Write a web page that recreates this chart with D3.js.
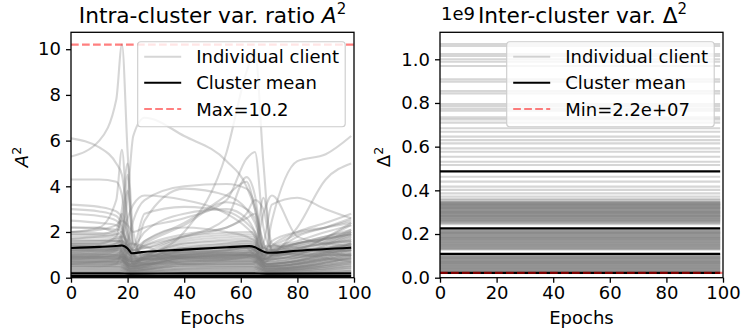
<!DOCTYPE html>
<html>
<head>
<meta charset="utf-8">
<script src="https://cdn.jsdelivr.net/npm/d3@7"></script>
<style>
  body { margin: 0; background: #fff; }
  svg { font-family: "DejaVu Sans", sans-serif; }
</style>
</head>
<body>
<div id="chart"></div>
<script>
// ---- data ----
// left panel: A^2 per client, sampled at these epochs
var spikyEpochs = [0, 10, 16, 18, 20, 22, 26, 40, 55, 62, 65, 68, 71, 80, 90, 99];
var spikyClients = [
  [5.3,6.0,7.8,10.2,5.5,1.5,1.0,0.9,0.9,1.0,1.0,0.8,0.9,1.0,1.1,1.2],
  [6.1,5.7,5.0,4.5,2.5,1.0,0.8,0.8,0.9,1.0,0.9,0.7,0.8,0.9,1.0,1.0],
  [4.3,4.3,4.2,3.6,1.8,0.7,0.9,1.1,1.2,1.3,1.2,0.8,1.0,1.2,1.3,1.4],
  [1.2,1.3,1.5,2.0,3.5,6.2,7.0,6.2,5.1,4.0,3.0,1.5,1.0,1.3,1.5,1.6],
  [0.6,0.7,0.8,0.9,0.8,0.6,0.9,2.0,5.5,9.0,9.9,5.0,1.2,1.0,1.1,1.2],
  [2.0,2.1,2.3,2.5,2.3,2.0,2.2,2.6,3.4,5.2,5.5,2.2,1.3,1.5,1.7,1.9],
  [0.9,0.9,0.9,0.9,0.8,0.7,0.8,0.9,1.0,1.0,0.9,0.8,2.5,5.1,5.4,6.2],
  [1.0,1.0,1.0,1.0,0.9,0.8,0.9,1.0,1.1,1.1,1.0,0.8,1.0,2.2,4.3,5.0],
  [2.0,2.2,3.4,5.6,2.2,0.8,0.9,1.0,1.1,1.2,1.1,0.8,1.0,1.1,1.2,1.3],
  [1.5,1.5,1.8,3.0,5.0,2.0,0.8,0.9,1.0,1.0,0.9,0.7,0.8,0.9,1.0,1.0],
  [0.8,0.9,1.0,1.2,1.6,2.5,3.4,4.0,4.1,3.9,3.2,1.5,1.0,1.1,1.3,1.5],
  [1.5,1.5,1.6,1.6,1.4,1.2,1.4,1.8,2.6,4.4,3.6,1.2,1.1,1.3,1.5,1.7],
  [0.7,0.7,0.7,0.7,0.6,0.5,0.6,0.7,0.8,0.9,1.2,2.8,3.6,1.8,1.5,1.4],
  [3.2,3.1,2.9,2.6,1.5,0.7,0.9,1.2,1.4,1.5,1.4,0.9,1.1,1.3,1.5,1.6],
  [3.0,2.9,2.7,2.3,1.3,0.6,1.0,1.3,1.5,1.6,1.5,1.0,1.2,1.5,1.7,1.9],
  [2.8,2.7,2.5,2.2,1.2,0.6,0.8,1.0,1.2,1.3,1.2,0.8,0.9,1.1,1.2,1.3],
  [0.9,1.0,1.2,1.4,1.1,1.0,2.5,3.9,3.6,3.0,2.4,1.2,1.0,1.2,1.3,1.4],
  [1.2,1.2,1.2,1.3,1.1,0.9,1.0,1.1,1.2,1.3,1.0,1.5,3.2,3.5,3.0,2.6],
  [1.3,1.3,1.3,1.4,1.2,1.0,1.1,1.2,1.3,1.4,1.2,1.0,1.4,2.0,2.4,2.8],
  [2.2,2.2,2.0,2.6,3.8,1.5,1.3,1.8,2.2,2.6,2.8,1.3,1.2,1.5,1.8,2.1],
  [1.9,1.9,2.1,2.8,1.9,1.4,2.0,2.8,3.0,2.6,2.0,0.9,1.3,1.6,2.0,2.3],
  [1.0,1.1,1.3,1.8,2.6,3.2,3.6,3.4,2.8,2.2,1.8,1.0,1.1,1.4,1.7,2.0],
  [1.7,1.8,1.9,2.0,1.5,1.2,1.5,2.3,3.3,3.0,2.6,1.3,1.4,1.9,2.2,2.5],
  [1.1,1.2,1.3,1.5,1.2,1.3,2.8,3.1,2.9,2.4,2.0,1.3,1.2,1.4,1.6,1.8],
  [1.4,1.4,1.5,1.6,1.3,1.1,1.4,1.9,2.2,2.8,3.4,3.0,1.2,1.5,1.8,2.0],
  [0.7,0.7,0.7,0.8,0.6,0.5,0.6,0.7,0.8,0.9,0.8,0.6,1.0,1.8,2.2,2.6],
  [2.5,2.4,2.3,2.1,1.3,0.9,1.6,2.2,2.0,1.8,1.6,1.1,1.6,2.0,2.2,2.4],
  [0.5,0.5,0.6,1.5,4.5,1.0,0.6,0.6,0.7,0.7,0.7,0.5,0.6,0.7,0.8,0.8],
  [1.6,1.6,1.7,1.8,1.6,1.3,1.6,2.4,3.6,4.2,3.0,0.9,1.2,1.5,1.7,1.9],
  [0.8,0.8,0.8,0.9,0.8,0.7,0.8,0.9,1.0,1.1,1.3,3.5,1.5,1.2,1.2,1.2]
];
var flatEpochs = [0, 17, 21, 40, 64, 69, 99];
var flatClients = [
  [2.2,2.1,1.2,1.8,2.0,1.0,2.3],[2.0,1.9,0.9,1.6,1.8,0.8,2.0],[1.9,1.8,1.0,1.7,1.9,0.9,2.4],
  [1.8,1.7,0.8,1.5,1.6,0.7,1.7],[1.7,1.6,0.7,1.4,1.5,0.8,1.9],[1.6,1.6,0.9,1.5,1.7,0.9,2.1],
  [1.5,1.5,0.8,1.3,1.4,0.6,1.5],[1.45,1.4,0.7,1.3,1.3,0.7,1.6],[1.4,1.3,0.6,1.2,1.3,0.6,1.3],
  [1.35,1.35,0.8,1.2,1.4,0.8,1.8],[1.3,1.2,0.6,1.1,1.2,0.5,1.2],[1.25,1.2,0.7,1.1,1.1,0.6,1.4],
  [1.2,1.1,0.5,1.0,1.1,0.5,1.1],[1.15,1.1,0.6,1.0,1.0,0.6,1.3],[1.1,1.0,0.5,0.9,1.0,0.5,1.0],
  [1.05,1.0,0.6,0.95,1.0,0.7,1.5],[1.0,0.95,0.4,0.9,0.9,0.4,0.9],[0.95,0.9,0.5,0.85,0.9,0.5,1.1],
  [0.9,0.85,0.4,0.8,0.8,0.4,0.85],[0.85,0.8,0.5,0.8,0.8,0.5,1.0],[0.8,0.8,0.4,0.75,0.75,0.4,0.8],
  [0.75,0.7,0.35,0.7,0.7,0.35,0.9],[0.7,0.7,0.4,0.65,0.7,0.4,0.7],[0.65,0.6,0.3,0.6,0.6,0.3,0.75],
  [0.6,0.6,0.35,0.55,0.6,0.35,0.6],[0.55,0.5,0.3,0.5,0.5,0.3,0.65],[0.5,0.5,0.3,0.5,0.5,0.3,0.5],
  [0.45,0.45,0.25,0.4,0.45,0.25,0.55],[0.4,0.4,0.25,0.4,0.4,0.25,0.4],[0.35,0.35,0.2,0.35,0.35,0.2,0.45],
  [0.3,0.3,0.2,0.3,0.3,0.2,0.3],[0.25,0.25,0.15,0.25,0.25,0.15,0.3],[0.2,0.2,0.15,0.2,0.2,0.15,0.2],
  [0.15,0.15,0.1,0.15,0.15,0.1,0.15],[0.1,0.1,0.08,0.1,0.1,0.08,0.1],[0.05,0.05,0.05,0.05,0.05,0.05,0.05],
  [1.38,1.3,0.7,1.25,1.3,0.6,1.5],[1.28,1.25,0.6,1.15,1.2,0.6,1.35],[1.18,1.15,0.55,1.05,1.1,0.55,1.25],
  [1.08,1.05,0.5,1.0,1.05,0.5,1.2],[0.98,0.95,0.45,0.9,0.95,0.45,1.05],[0.88,0.85,0.45,0.82,0.85,0.45,0.95],
  [0.78,0.75,0.4,0.72,0.75,0.4,0.85],[0.68,0.65,0.35,0.62,0.65,0.35,0.7],[0.58,0.55,0.3,0.55,0.55,0.3,0.62],
  [0.48,0.46,0.28,0.45,0.46,0.28,0.5],[0.38,0.37,0.22,0.36,0.37,0.22,0.4],[0.28,0.28,0.18,0.27,0.28,0.18,0.3],
  [0.9,0.9,1.5,0.85,0.9,1.4,0.95],[0.6,0.62,1.2,0.6,0.6,1.1,0.7]
];
var meanEpochs = [0, 10, 17, 18, 20, 21.5, 25, 40, 55, 63, 65, 67, 69, 70, 80, 99];
var meanHigh   = [1.30,1.35,1.40,1.41,1.28,1.07,1.12,1.23,1.33,1.38,1.33,1.20,1.10,1.09,1.18,1.31];
var meanLow    = [[0.19,0.19,0.18,0.19,0.19,0.18,0.19], [0.07,0.07,0.07,0.07,0.07,0.07,0.07]];
var maxA2 = 10.2;

// right panel: Delta^2 per client (constant over epochs), units of 1e9
var deltaClients = [
  1.070,1.061,1.024,1.015,1.000,0.989,0.969,0.908,0.897,0.855,0.844,0.795,0.786,0.775,0.765,
  0.734,0.725,0.710,0.684,0.668,0.646,0.630,0.615,0.592,0.577,0.554,0.531,0.516,0.462,0.440,
  0.417,0.402,0.386,0.371,0.360,0.355,
  0.348,0.345,0.343,0.341,0.338,0.336,0.334,0.331,0.329,0.327,0.324,0.322,0.320,0.317,0.315,
  0.313,0.309,0.306,0.304,0.302,0.299,0.297,0.295,0.291,0.288,0.286,0.284,0.280,0.278,0.276,
  0.272,0.270,0.268,0.264,0.262,0.260,0.256,0.252,0.245,
  0.347,0.340,0.333,0.326,0.319,0.311,0.303,0.296,0.289,0.282,0.274,0.266,0.258,0.250,0.335,0.318,0.300,0.283,
  0.218,0.214,0.212,0.210,0.206,0.202,0.200,0.198,0.193,0.191,0.189,0.185,0.181,0.178,0.176,
  0.172,0.168,0.165,0.163,0.159,0.155,0.152,0.150,0.146,0.142,0.140,0.137,0.133,0.129,
  0.216,0.208,0.204,0.196,0.187,0.183,0.174,0.170,0.161,0.157,0.148,0.144,0.135,0.131,0.205,0.180,
  0.104,0.100,0.098,0.096,0.092,0.088,0.086,0.084,0.080,0.076,0.074,0.072,0.068,0.064,0.062,
  0.060,0.056,0.052,0.050,0.048,0.044,0.040,0.038,0.036,0.032,0.030,0.028,0.024,0.022,
  0.102,0.094,0.090,0.082,0.078,0.070,0.066,0.058,0.054,0.046,0.042,0.034,0.026,0.090,0.070
];
var deltaMeans = [0.487, 0.226, 0.109, 0.022];
var minDelta = 0.022;
var lineEpochs = [0, 99];

var xTicks = [0, 20, 40, 60, 80, 100];
var yTicksLeft = [0, 2, 4, 6, 8, 10];
var yTicksRight = [0, 0.2, 0.4, 0.6, 0.8, 1.0];
var legendLeft = ["Individual client", "Cluster mean", "Max=10.2"];
var legendRight = ["Individual client", "Cluster mean", "Min=2.2e+07"];

// ---- drawing ----
var svg = d3.select('#chart').append('svg').attr('width', 742).attr('height', 335);
var axTop = 32.3, axBottom = 277.7, fs = 18;
var gray = '#808080', clientAlpha = 0.32;

function panel(x0, yMax, yTicks, fmt, id){
  var x = d3.scaleLinear().domain([0, 100]).range([x0, x0 + 283]);
  var y = d3.scaleLinear().domain([0, yMax]).range([axBottom, axTop]);
  svg.append('clipPath').attr('id', id).append('rect')
    .attr('x', x0).attr('y', axTop).attr('width', 283).attr('height', axBottom - axTop);
  var plot = svg.append('g').attr('clip-path', 'url(#' + id + ')');
  return {x: x, y: y, plot: plot, x0: x0, yTicks: yTicks, fmt: fmt};
}

function axes(p){
  var gx = svg.append('g').attr('transform', 'translate(0,' + axBottom + ')')
    .call(d3.axisBottom(p.x).tickValues(xTicks).tickSize(5).tickPadding(4).tickFormat(d3.format('d')));
  var gy = svg.append('g').attr('transform', 'translate(' + p.x0 + ',0)')
    .call(d3.axisLeft(p.y).tickValues(p.yTicks).tickSize(5).tickPadding(5).tickFormat(p.fmt));
  [gx, gy].forEach(function(g){
    g.select('.domain').remove();
    g.selectAll('line').attr('stroke', '#000').attr('stroke-width', 1.3);
    g.selectAll('text').attr('fill', '#000').style('font-size', fs + 'px').style('font-family', 'DejaVu Sans');
  });
  svg.append('rect').attr('x', p.x0).attr('y', axTop).attr('width', 283).attr('height', axBottom - axTop)
    .attr('fill', 'none').attr('stroke', '#000').attr('stroke-width', 1.3);
  svg.append('text').attr('x', p.x0 + 141.5).attr('y', 324).attr('text-anchor', 'middle')
    .style('font-size', fs + 'px').text('Epochs');
}

function legend(x0, labels){
  var g = svg.append('g');
  g.append('rect').attr('x', x0).attr('y', 41.7).attr('width', 207.5).attr('height', 85)
    .attr('rx', 3).attr('fill', 'rgba(255,255,255,0.8)').attr('stroke', '#cccccc').attr('stroke-width', 1.1);
  var rows = [56.7, 82.7, 109];
  var styles = [
    {c: gray, o: clientAlpha, d: null}, {c: '#000', o: 1, d: null}, {c: '#ff0000', o: 0.5, d: '7.7,3.3'}
  ];
  labels.forEach(function(t, i){
    g.append('line').attr('x1', x0 + 6.5).attr('x2', x0 + 43.5).attr('y1', rows[i]).attr('y2', rows[i])
      .attr('stroke', styles[i].c).attr('stroke-opacity', styles[i].o).attr('stroke-width', 2.1)
      .attr('stroke-dasharray', styles[i].d);
    g.append('text').attr('x', x0 + 58.5).attr('y', rows[i] + 6.5).style('font-size', fs + 'px').text(t);
  });
}

// left panel
var L = panel(71, 10.74, yTicksLeft, d3.format('d'), 'clipL');
var curve = d3.curveMonotoneX;
function drawSeries(p, ex, vals, color, op, w){
  var line = d3.line().x(function(d, i){ return p.x(ex[i]); }).y(function(d){ return p.y(d); }).curve(curve);
  p.plot.append('path').attr('d', line(vals)).attr('fill', 'none')
    .attr('stroke', color).attr('stroke-opacity', op).attr('stroke-width', w);
}
flatClients.forEach(function(v){ drawSeries(L, flatEpochs, v, gray, clientAlpha, 2.1); });
spikyClients.forEach(function(v){ drawSeries(L, spikyEpochs, v, gray, clientAlpha, 2.1); });
drawSeries(L, meanEpochs, meanHigh, '#000', 1, 2.1);
meanLow.forEach(function(v){ drawSeries(L, flatEpochs, v, '#000', 1, 2.1); });
L.plot.append('line').attr('x1', L.x(0)).attr('x2', L.x(100)).attr('y1', L.y(maxA2)).attr('y2', L.y(maxA2))
  .attr('stroke', '#ff0000').attr('stroke-opacity', 0.5).attr('stroke-width', 2.1).attr('stroke-dasharray', '7.7,3.3');
axes(L);
legend(137.7, legendLeft);

// right panel
var R = panel(440, 1.1236, yTicksRight, d3.format('.1f'), 'clipR');
deltaClients.forEach(function(v){ drawSeries(R, lineEpochs, [v, v], gray, clientAlpha, 2.1); });
deltaMeans.forEach(function(v){ drawSeries(R, lineEpochs, [v, v], '#000', 1, 2.1); });
R.plot.append('line').attr('x1', R.x(0)).attr('x2', R.x(100)).attr('y1', R.y(minDelta)).attr('y2', R.y(minDelta))
  .attr('stroke', '#ff0000').attr('stroke-opacity', 0.5).attr('stroke-width', 2.1).attr('stroke-dasharray', '7.7,3.3');
axes(R);
legend(506.7, legendRight);

// titles, labels
var t1 = svg.append('text').attr('x', 212.5).attr('y', 23).attr('text-anchor', 'middle').style('font-size', '21.7px');
t1.append('tspan').text('Intra-cluster var. ratio ');
t1.append('tspan').style('font-style', 'italic').text('A');
t1.append('tspan').attr('dy', -9).style('font-size', '15px').text('2');
var t2 = svg.append('text').attr('x', 582.5).attr('y', 23).attr('text-anchor', 'middle').style('font-size', '21.7px');
t2.append('tspan').text('Inter-cluster var. Δ');
t2.append('tspan').attr('dy', -9).style('font-size', '15px').text('2');
svg.append('text').attr('x', 441).attr('y', 20).style('font-size', fs + 'px').text('1e9');

var yl = svg.append('text').attr('transform', 'translate(28,157) rotate(-90)').attr('text-anchor', 'middle').style('font-size', fs + 'px');
yl.append('tspan').style('font-style', 'italic').text('A');
yl.append('tspan').attr('dy', -7).style('font-size', '12.5px').text('2');
var yr = svg.append('text').attr('transform', 'translate(390,157) rotate(-90)').attr('text-anchor', 'middle').style('font-size', fs + 'px');
yr.append('tspan').text('Δ');
yr.append('tspan').attr('dy', -7).style('font-size', '12.5px').text('2');
</script>
</body>
</html>
